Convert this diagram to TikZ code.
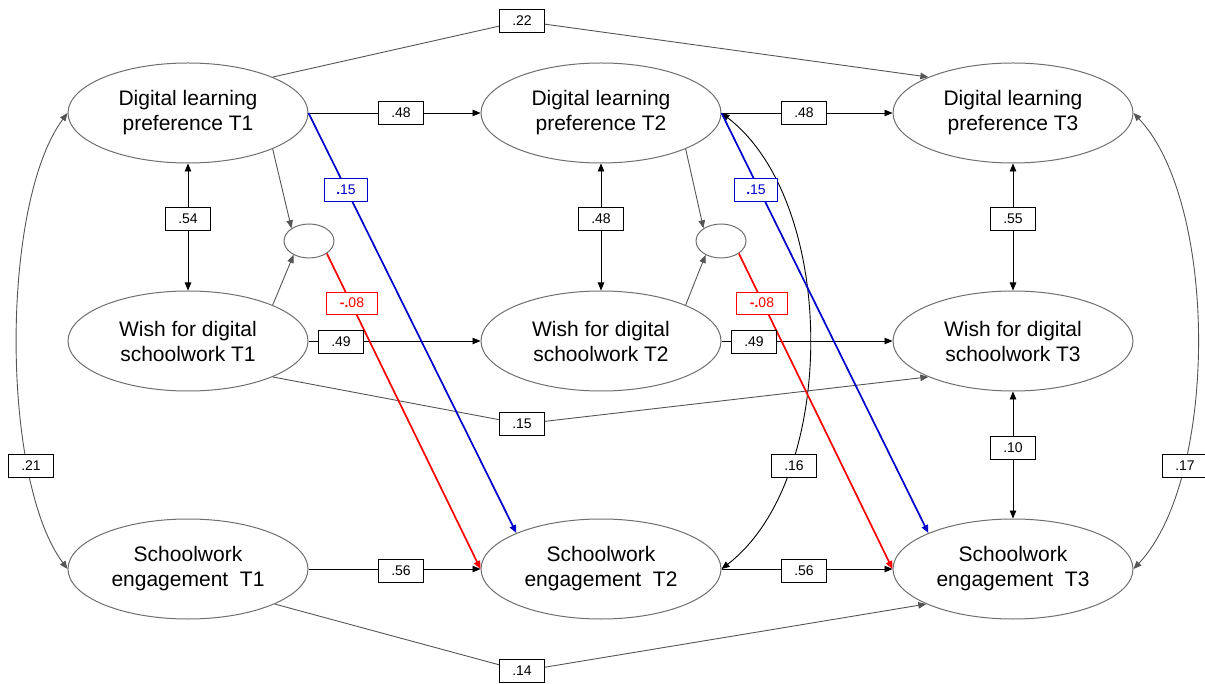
\documentclass[tikz,border=0pt]{standalone}
\usepackage{fontspec}
\setmainfont{Liberation Sans}
\usetikzlibrary{shapes.geometric,arrows.meta}
\definecolor{lgray}{HTML}{555555}
\definecolor{egray}{HTML}{6E6E6E}
\definecolor{myblue}{HTML}{0000CC}
\definecolor{myred}{HTML}{FF0000}
\begin{document}
\begin{tikzpicture}[x=1pt,y=-1pt,
 lat/.style={ellipse, draw=egray, line width=1pt, minimum width=240pt, minimum height=100pt, inner sep=0pt, align=center, font=\fontsize{21}{25}\selectfont},
 small/.style={ellipse, draw=egray, line width=1pt, minimum width=50pt, minimum height=34pt, inner sep=0pt},
 lbl/.style={draw, fill=white, line width=0.8pt, minimum width=45pt, minimum height=23pt, inner sep=0pt, font=\fontsize{14}{16}\selectfont},
 bluelbl/.style={lbl, draw=myblue, text=myblue, minimum width=43pt},
 redlbl/.style={lbl, draw=myred, text=myred, minimum width=51pt, minimum height=22pt},
 tip/.style={-{Triangle[length=8pt,width=6.5pt]}},
 both/.style={{Triangle[length=8pt,width=6.5pt]}-{Triangle[length=8pt,width=6.5pt]}},
 blk/.style={black, line width=0.9pt},
 gry/.style={lgray, line width=0.9pt},
 blu/.style={myblue, line width=1.7pt},
 rd/.style={myred, line width=1.7pt},
]
\useasboundingbox (0,0) rectangle (1205,684);

% latent variables
\node[lat] (d1) at (188,113) {Digital learning\\preference T1};
\node[lat] (d2) at (601,113) {Digital learning\\preference T2};
\node[lat] (d3) at (1013,113) {Digital learning\\preference T3};
\node[lat] (w1) at (188,341) {Wish for digital\\schoolwork T1};
\node[lat] (w2) at (601,341) {Wish for digital\\schoolwork T2};
\node[lat] (w3) at (1013,341) {Wish for digital\\schoolwork T3};
\node[lat] (e1) at (188,569) {Schoolwork\\engagement~~T1};
\node[lat] (e2) at (601,569) {Schoolwork\\engagement~~T2};
\node[lat] (e3) at (1013,569) {Schoolwork\\engagement~~T3};
\node[small] (s1) at (309,241) {};
\node[small] (s2) at (721,241) {};

% labels on bent paths
\node[lbl] (l22) at (522,21) {.22};
\node[lbl] (l15w) at (522,424) {.15};
\node[lbl] (l14) at (522,671) {.14};

% bent lag-2 paths
\draw[gry, tip] (d1.23) -- (l22) -- (d3.157);
\draw[gry, tip] (w1.-23) -- (l15w) -- (w3.203);
\draw[gry, tip] (e1.-22) -- (l14) -- (e3.202);

% autoregressive paths
\draw[blk, tip] (d1.east) -- (d2.west);
\draw[blk, tip] (d2.east) -- (d3.west);
\draw[blk, tip] (w1.east) -- (w2.west);
\draw[blk, tip] (w2.east) -- (w3.west);
\draw[blk, tip] (e1.east) -- (e2.west);
\draw[blk, tip] (e2.east) -- (e3.west);

% within-time covariances
\draw[blk, both] (d1.south) -- (w1.north);
\draw[blk, both] (d2.south) -- (w2.north);
\draw[blk, both] (d3.south) -- (w3.north);
\draw[blk, both] (w3.south) -- (e3.north);

% interaction terms
\draw[gry, tip] (d1.-23) -- (s1.144);
\draw[gry, tip] (w1.23) -- (s1.222);
\draw[gry, tip] (d2.-23) -- (s2.144);
\draw[gry, tip] (w2.23) -- (s2.222);

% curved covariances
\draw[gry, both] (d1.west) .. controls +(-67,90) and +(-67,-90) .. (e1.west);
\draw[blk, both] (d2.east) .. controls +(117,90) and +(117,-90) .. (e2.east);
\draw[gry, both] (d3.east) .. controls +(85,90) and +(85,-90) .. (e3.east);

% cross-lagged coloured paths
\draw[blu, tip] (d1.east) -- (e2.157);
\draw[blu, tip] (d2.east) -- (e3.157);
\draw[rd, tip] (s1.-35) -- (e2.west);
\draw[rd, tip] (s2.-35) -- (e3.west);

% labels
\node[lbl] (l48a) at (401,113) {.48};
\node[lbl] (l48b) at (804,113) {.48};
\node[lbl] (l54) at (188,219) {.54};
\node[lbl] (l48c) at (601,219) {.48};
\node[lbl] (l55) at (1013,219) {.55};
\node[lbl] (l49a) at (341,342) {.49};
\node[lbl] (l49b) at (754,342) {.49};
\node[lbl] (l10) at (1013,448) {.10};
\node[lbl] (l56a) at (401,571) {.56};
\node[lbl] (l56b) at (804,571) {.56};
\node[lbl] (l21) at (31,466) {.21};
\node[lbl] (l16) at (794,466) {.16};
\node[lbl] (l17) at (1185,466) {.17};
\node[bluelbl] (b15a) at (346,190) {{\bfseries .}15};
\node[bluelbl] (b15b) at (756,190) {{\bfseries .}15};
\node[redlbl] (r08a) at (352,303) {{\bfseries -.}08};
\node[redlbl] (r08b) at (762,303) {{\bfseries -.}08};
\end{tikzpicture}
\end{document}
